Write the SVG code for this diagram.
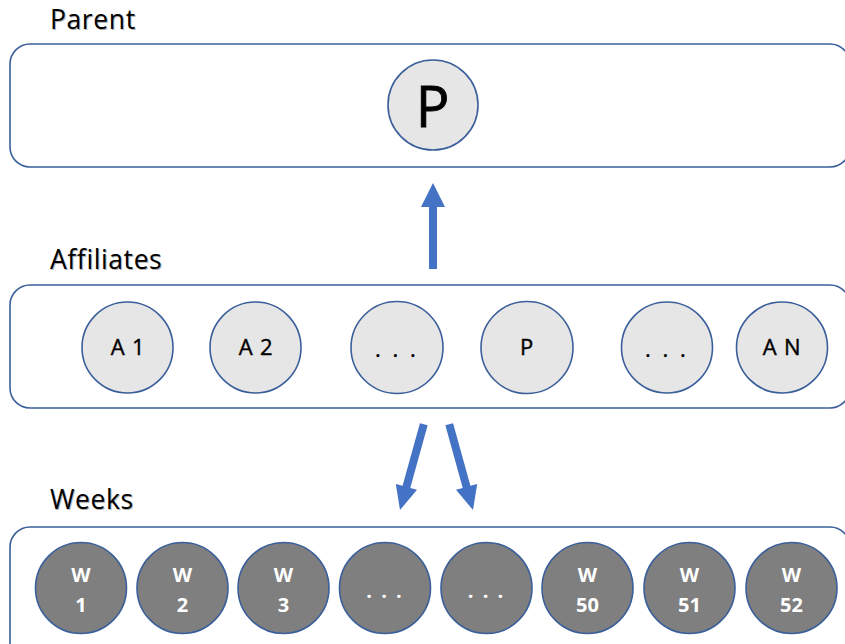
<svg xmlns="http://www.w3.org/2000/svg" width="845" height="644" viewBox="0 0 845 644">
  <defs>
    <style>
      .panel { fill: #ffffff; stroke: #3a5f9a; stroke-width: 1.6; }
      .title { font-family: "Open Sans", "Liberation Sans", sans-serif; font-size: 26.5px; letter-spacing: 0.6px; fill: #000000; }
      .shadow { fill: #b0b0b0; }
      .light { fill: #e7e6e6; stroke: #3a5f9a; stroke-width: 1.6; }
      .dark { fill: #7f7f7f; stroke: #3a5f9a; stroke-width: 1.6; }
      .ltxt { font-family: "Open Sans", "Liberation Sans", sans-serif; font-size: 22px; letter-spacing: 0.8px; fill: #000000; stroke: #000000; stroke-width: 0.4; text-anchor: middle; }
      .dtxt { font-family: "Open Sans", "Liberation Sans", sans-serif; font-size: 20px; font-weight: bold; fill: #ffffff; text-anchor: middle; }
      .arrow { fill: #4472c4; }
    </style>
  </defs>

  <!-- layer panels -->
  <g id="panels">
    <rect class="panel" x="10" y="44" width="840" height="123" rx="20"/>
    <rect class="panel" x="10" y="285" width="840" height="123" rx="20"/>
    <rect class="panel" x="10" y="527" width="840" height="140" rx="20"/>
  </g>

  <!-- layer titles -->
  <g id="titles">
    <text class="title shadow" x="51" y="30">Parent</text>
    <text class="title" x="50" y="29">Parent</text>
    <text class="title shadow" x="51" y="270">Affiliates</text>
    <text class="title" x="50" y="269">Affiliates</text>
    <text class="title shadow" x="51" y="510">Weeks</text>
    <text class="title" x="50" y="509">Weeks</text>
  </g>

  <!-- parent node -->
  <g id="parent-p">
    <circle class="light" cx="433" cy="105" r="45"/>
    <text class="ltxt" x="433" y="127" style="font-size:56px;stroke-width:0.8">P</text>
  </g>

  <!-- affiliate nodes -->
  <g id="aff-a1"><circle class="light" cx="127.5" cy="347.5" r="45.5"/><text class="ltxt" x="128" y="355">A 1</text></g>
  <g id="aff-a2"><circle class="light" cx="255.5" cy="347.5" r="45.5"/><text class="ltxt" x="256" y="355">A 2</text></g>
  <g id="aff-more1"><circle class="light" cx="397" cy="347.5" r="46"/><text class="ltxt" x="397" y="357" style="letter-spacing:3px">. . .</text></g>
  <g id="aff-p"><circle class="light" cx="527" cy="347.5" r="46"/><text class="ltxt" x="527" y="355">P</text></g>
  <g id="aff-more2"><circle class="light" cx="667" cy="347.5" r="45.5"/><text class="ltxt" x="667" y="357" style="letter-spacing:3px">. . .</text></g>
  <g id="aff-an"><circle class="light" cx="782" cy="347.5" r="45.5"/><text class="ltxt" x="782" y="355">A N</text></g>

  <!-- week nodes -->
  <g id="week-1"><circle class="dark" cx="81" cy="588" r="45.5"/><text class="dtxt" x="81" y="582">W</text><text class="dtxt" x="81" y="612">1</text></g>
  <g id="week-2"><circle class="dark" cx="182.5" cy="588" r="45.5"/><text class="dtxt" x="182.5" y="582">W</text><text class="dtxt" x="182.5" y="612">2</text></g>
  <g id="week-3"><circle class="dark" cx="283.5" cy="588" r="45.5"/><text class="dtxt" x="283.5" y="582">W</text><text class="dtxt" x="283.5" y="612">3</text></g>
  <g id="week-more1"><circle class="dark" cx="385" cy="588" r="45.5"/><text class="dtxt" x="385" y="598" style="letter-spacing:2px">. . .</text></g>
  <g id="week-more2"><circle class="dark" cx="486.5" cy="588" r="45.5"/><text class="dtxt" x="486.5" y="598" style="letter-spacing:2px">. . .</text></g>
  <g id="week-50"><circle class="dark" cx="587.5" cy="588" r="45.5"/><text class="dtxt" x="587.5" y="582">W</text><text class="dtxt" x="587.5" y="612">50</text></g>
  <g id="week-51"><circle class="dark" cx="689.5" cy="588" r="45.5"/><text class="dtxt" x="689.5" y="582">W</text><text class="dtxt" x="689.5" y="612">51</text></g>
  <g id="week-52"><circle class="dark" cx="791.5" cy="588" r="45.5"/><text class="dtxt" x="791.5" y="582">W</text><text class="dtxt" x="791.5" y="612">52</text></g>

  <!-- connectors: block arrows -->
  <g id="connectors">
    <!-- up: affiliates to parent -->
    <polygon class="arrow" points="429,269 437,269 437,207 445,207 433,183 421,207 429,207"/>
    <!-- down-left: affiliates to weeks -->
    <g transform="translate(400,510) rotate(15.5)">
      <polygon class="arrow" points="0,0 -11,-24 -4,-24 -4,-89 4,-89 4,-24 11,-24"/>
    </g>
    <!-- down-right: affiliates to weeks -->
    <g transform="translate(473,510) rotate(-15.5)">
      <polygon class="arrow" points="0,0 -11,-24 -4,-24 -4,-89 4,-89 4,-24 11,-24"/>
    </g>
  </g>
</svg>
